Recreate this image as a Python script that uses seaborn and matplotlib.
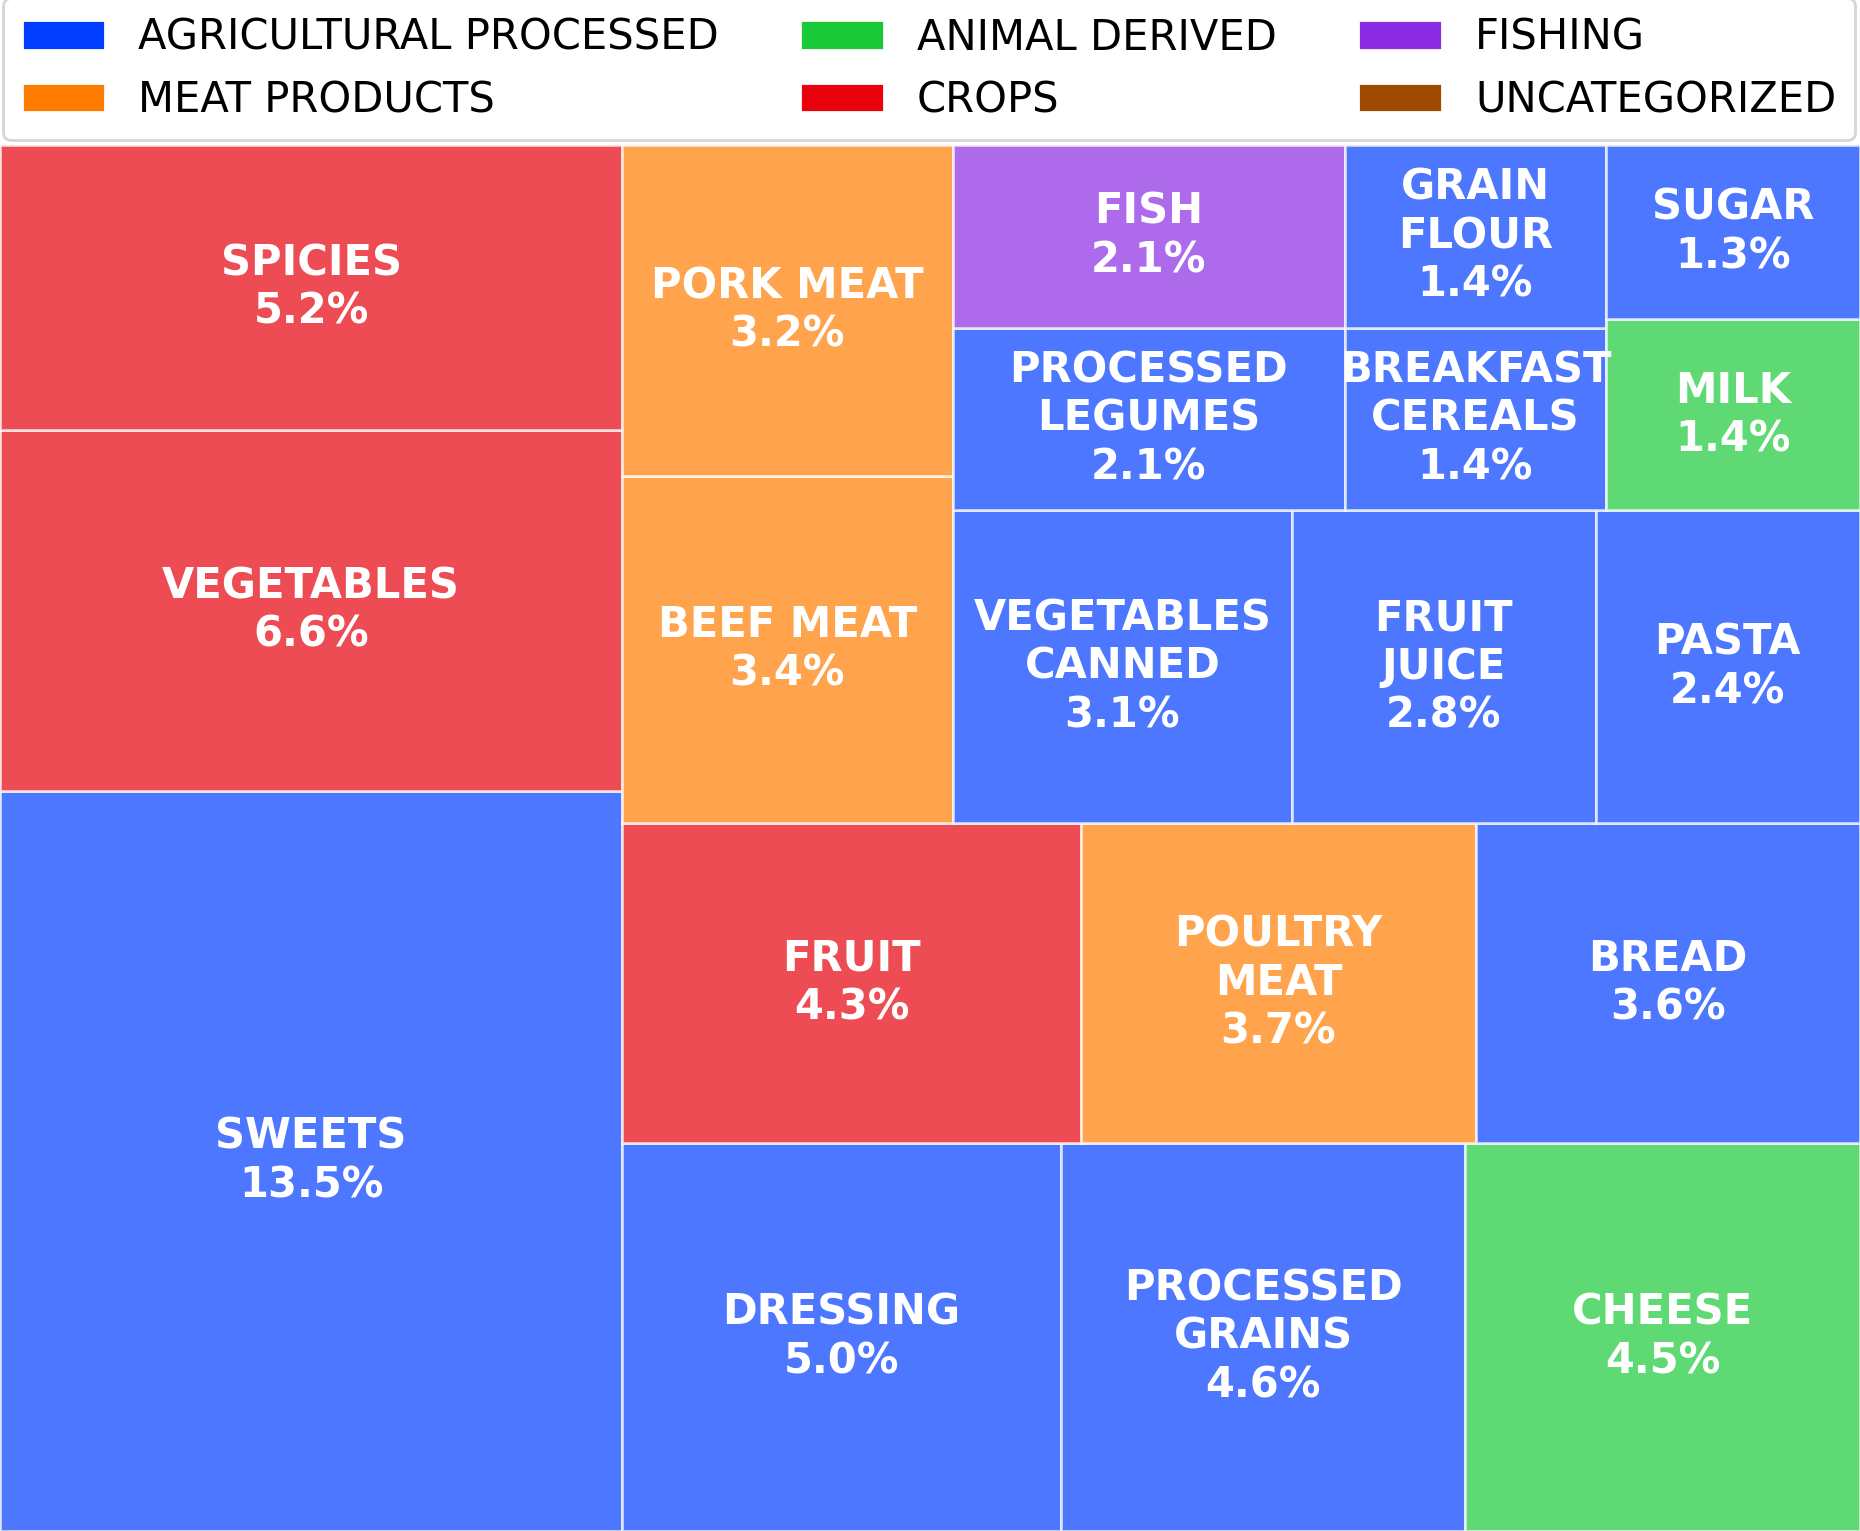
import textwrap
import matplotlib
matplotlib.use("Agg")
import matplotlib.pyplot as plt
from matplotlib.patches import Patch
import seaborn as sns

# Datos del treemap (porcentajes estimados a partir de las areas de la figura)
productos = [
    "SWEETS", "VEGETABLES", "SPICIES", "DRESSING", "PROCESSED GRAINS",
    "CHEESE", "FRUIT", "POULTRY MEAT", "BREAD", "BEEF MEAT", "PORK MEAT",
    "VEGETABLES CANNED", "FRUIT JUICE", "PASTA", "PROCESSED LEGUMES",
    "FISH", "BREAKFAST CEREALS", "GRAIN FLOUR", "MILK", "SUGAR",
]
porcentajes = [
    13.5, 6.6, 5.2, 5.0, 4.6,
    4.5, 4.3, 3.7, 3.6, 3.37, 3.21,
    3.12, 2.79, 2.43, 2.1,
    2.1, 1.4, 1.4, 1.42, 1.3,
]
categorias_producto = [
    "AGRICULTURAL PROCESSED", "CROPS", "CROPS", "AGRICULTURAL PROCESSED",
    "AGRICULTURAL PROCESSED", "ANIMAL DERIVED", "CROPS", "MEAT PRODUCTS",
    "AGRICULTURAL PROCESSED", "MEAT PRODUCTS", "MEAT PRODUCTS",
    "AGRICULTURAL PROCESSED", "AGRICULTURAL PROCESSED", "AGRICULTURAL PROCESSED",
    "AGRICULTURAL PROCESSED", "FISHING", "AGRICULTURAL PROCESSED",
    "AGRICULTURAL PROCESSED", "ANIMAL DERIVED", "AGRICULTURAL PROCESSED",
]
categorias = [
    "AGRICULTURAL PROCESSED", "MEAT PRODUCTS", "ANIMAL DERIVED",
    "CROPS", "FISHING", "UNCATEGORIZED",
]


# Algoritmo squarified (misma logica que la libreria squarify)
def layout_fila(sizes, x, y, dx, dy):
    ancho = sum(sizes) / dy
    rects = []
    for s in sizes:
        rects.append((x, y, ancho, s / ancho))
        y += s / ancho
    return rects


def layout_col(sizes, x, y, dx, dy):
    alto = sum(sizes) / dx
    rects = []
    for s in sizes:
        rects.append((x, y, s / alto, alto))
        x += s / alto
    return rects


def layout(sizes, x, y, dx, dy):
    if dx >= dy:
        return layout_fila(sizes, x, y, dx, dy)
    return layout_col(sizes, x, y, dx, dy)


def sobrante(sizes, x, y, dx, dy):
    area = sum(sizes)
    if dx >= dy:
        ancho = area / dy
        return x + ancho, y, dx - ancho, dy
    alto = area / dx
    return x, y + alto, dx, dy - alto


def peor_ratio(sizes, x, y, dx, dy):
    return max(max(r[2] / r[3], r[3] / r[2]) for r in layout(sizes, x, y, dx, dy))


def squarify(sizes, x, y, dx, dy):
    if len(sizes) == 0:
        return []
    if len(sizes) == 1:
        return layout(sizes, x, y, dx, dy)
    i = 1
    while i < len(sizes) and peor_ratio(sizes[:i], x, y, dx, dy) >= peor_ratio(sizes[:i + 1], x, y, dx, dy):
        i += 1
    actual = sizes[:i]
    resto = sizes[i:]
    lx, ly, ldx, ldy = sobrante(actual, x, y, dx, dy)
    return layout(actual, x, y, dx, dy) + squarify(resto, lx, ly, ldx, ldy)


ANCHO, ALTO = 100.0, 100.0
total = sum(porcentajes)
tamanos = [p * ANCHO * ALTO / total for p in porcentajes]
rects = squarify(tamanos, 0, 0, ANCHO, ALTO)

sns.set_style("white")
plt.rcParams["font.family"] = ["DejaVu Sans"]
plt.rcParams["text.color"] = "black"
paleta = sns.color_palette("bright", len(categorias))
colores = dict(zip(categorias, paleta))

fig = plt.figure(figsize=(9.3, 7.655), dpi=200)
ax = fig.add_axes([0, 0, 1, 0.9053])

for (x, y, w, h), nombre, pct, cat in zip(rects, productos, porcentajes, categorias_producto):
    ax.add_patch(plt.Rectangle((x, y), w, h, facecolor=colores[cat],
                               edgecolor="white", linewidth=1, alpha=0.7))
    texto = textwrap.fill(nombre, width=10) + f"\n{pct:.1f}%"
    ax.text(x + w / 2, y + h / 2, texto, ha="center", va="center",
            color="white", fontsize=15, fontweight="bold")

ax.set_xlim(0, ANCHO)
ax.set_ylim(0, ALTO)
ax.axis("off")

handles = [Patch(facecolor=colores[c], edgecolor="white", linewidth=1, label=c)
           for c in categorias]
leg = ax.legend(handles=handles, ncol=3, loc="lower left", mode="expand",
                bbox_to_anchor=(0.0016, 1.0035, 0.9957, 0.08), fontsize=15,
                borderaxespad=0, frameon=True, borderpad=0.45, labelspacing=0.5)
leg.get_frame().set_linewidth(1.0)

plt.savefig("out.png", dpi=200)
